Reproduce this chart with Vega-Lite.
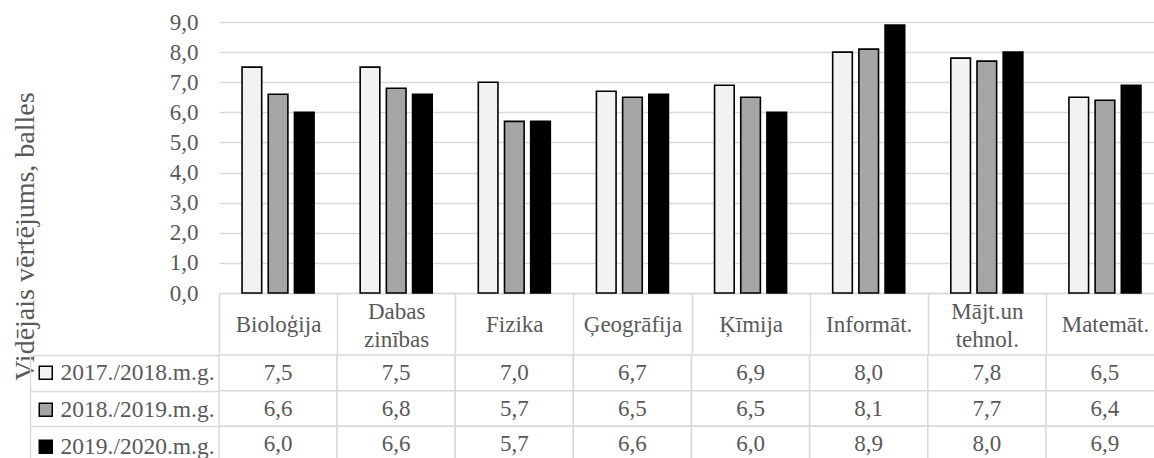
{
  "$schema": "https://vega.github.io/schema/vega-lite/v6.json",
  "autosize": {"type": "none"},
  "padding": {"left": 219, "top": 22, "right": 935, "bottom": 436},
  "background": "white",
  "datasets": {
    "scores": [
      {"subject": "Bioloģija", "series": "2017./2018.m.g.", "value": 7.5},
      {"subject": "Dabas zinības", "series": "2017./2018.m.g.", "value": 7.5},
      {"subject": "Fizika", "series": "2017./2018.m.g.", "value": 7.0},
      {"subject": "Ģeogrāfija", "series": "2017./2018.m.g.", "value": 6.7},
      {"subject": "Ķīmija", "series": "2017./2018.m.g.", "value": 6.9},
      {"subject": "Informāt.", "series": "2017./2018.m.g.", "value": 8.0},
      {"subject": "Mājt.un tehnol.", "series": "2017./2018.m.g.", "value": 7.8},
      {"subject": "Matemāt.", "series": "2017./2018.m.g.", "value": 6.5},
      {"subject": "Bioloģija", "series": "2018./2019.m.g.", "value": 6.6},
      {"subject": "Dabas zinības", "series": "2018./2019.m.g.", "value": 6.8},
      {"subject": "Fizika", "series": "2018./2019.m.g.", "value": 5.7},
      {"subject": "Ģeogrāfija", "series": "2018./2019.m.g.", "value": 6.5},
      {"subject": "Ķīmija", "series": "2018./2019.m.g.", "value": 6.5},
      {"subject": "Informāt.", "series": "2018./2019.m.g.", "value": 8.1},
      {"subject": "Mājt.un tehnol.", "series": "2018./2019.m.g.", "value": 7.7},
      {"subject": "Matemāt.", "series": "2018./2019.m.g.", "value": 6.4},
      {"subject": "Bioloģija", "series": "2019./2020.m.g.", "value": 6.0},
      {"subject": "Dabas zinības", "series": "2019./2020.m.g.", "value": 6.6},
      {"subject": "Fizika", "series": "2019./2020.m.g.", "value": 5.7},
      {"subject": "Ģeogrāfija", "series": "2019./2020.m.g.", "value": 6.6},
      {"subject": "Ķīmija", "series": "2019./2020.m.g.", "value": 6.0},
      {"subject": "Informāt.", "series": "2019./2020.m.g.", "value": 8.9},
      {"subject": "Mājt.un tehnol.", "series": "2019./2020.m.g.", "value": 8.0},
      {"subject": "Matemāt.", "series": "2019./2020.m.g.", "value": 6.9}
    ]
  },
  "vconcat": [
    {
      "width": 945,
      "height": 271,
      "data": {"name": "scores"},
      "mark": {"type": "bar", "stroke": "black", "strokeWidth": 1.6},
      "encoding": {
        "x": {
          "field": "subject",
          "type": "nominal",
          "sort": null,
          "scale": {"paddingInner": 0, "paddingOuter": 0},
          "axis": {
            "title": null,
            "orient": "bottom",
            "domain": true,
            "domainColor": "#d9d9d9",
            "domainWidth": 1.5,
            "ticks": true,
            "tickBand": "extent",
            "tickSize": 62,
            "tickColor": "#d9d9d9",
            "tickWidth": 1.5,
            "labelAngle": 0,
            "labelFont": "Liberation Serif",
            "labelFontSize": 23,
            "labelColor": "#595959",
            "labelBaseline": "middle",
            "labelPadding": {"condition": {"test": "indexof(datum.label, ' ') >= 0", "value": -43.5}, "value": -31},
            "labelLineHeight": 28,
            "labelOverlap": false,
            "labelExpr": "split(datum.label, ' ')"
          }
        },
        "xOffset": {
          "field": "series",
          "type": "nominal",
          "sort": null,
          "scale": {"paddingInner": 0.25, "paddingOuter": 0.88}
        },
        "y": {
          "field": "value",
          "type": "quantitative",
          "scale": {"domain": [0, 9], "nice": false},
          "axis": {
            "values": [0, 1, 2, 3, 4, 5, 6, 7, 8, 9],
            "format": ".1f",
            "grid": true,
            "gridColor": "#d9d9d9",
            "gridWidth": 1.5,
            "domain": false,
            "ticks": false,
            "labelFont": "Liberation Serif",
            "labelFontSize": 23,
            "labelColor": "#595959",
            "labelPadding": 21,
            "title": "Vidējais vērtējums, balles",
            "titleFont": "Liberation Serif",
            "titleFontSize": 28,
            "titleFontWeight": "normal",
            "titleColor": "#595959",
            "titleAngle": -90,
            "titleAlign": "center",
            "titleBaseline": "alphabetic",
            "titleX": -186,
            "titleY": 214
          }
        },
        "fill": {
          "field": "series",
          "type": "nominal",
          "sort": null,
          "scale": {
            "domain": ["2017./2018.m.g.", "2018./2019.m.g.", "2019./2020.m.g."],
            "range": ["#f2f2f2", "#a5a5a5", "#000000"]
          },
          "legend": {
            "title": null,
            "orient": "none",
            "legendX": -185,
            "legendY": 339,
            "padding": 0,
            "symbolType": "square",
            "symbolSize": 169,
            "symbolStrokeColor": "black",
            "symbolStrokeWidth": 1.5,
            "symbolOpacity": 1,
            "labelFont": "Liberation Serif",
            "labelFontSize": 23.5,
            "labelColor": "#595959",
            "labelOffset": 3,
            "rowPadding": 12,
            "labelLimit": 300
          }
        }
      }
    },
    {
      "width": 945,
      "height": 107,
      "data": {"name": "scores"},
      "encoding": {
        "x": {
          "field": "subject",
          "type": "nominal",
          "sort": null,
          "scale": {"paddingInner": 0, "paddingOuter": 0},
          "axis": null
        },
        "y": {
          "field": "series",
          "type": "nominal",
          "sort": null,
          "scale": {"paddingInner": 0, "paddingOuter": 0},
          "axis": {
            "title": null,
            "orient": "left",
            "offset": 189,
            "labels": false,
            "domain": true,
            "domainColor": "#d9d9d9",
            "domainWidth": 1.5,
            "ticks": true,
            "tickBand": "extent",
            "tickSize": -189,
            "tickColor": "#d9d9d9",
            "tickWidth": 1.5,
            "grid": false
          }
        }
      },
      "layer": [
        {
          "mark": {"type": "rect", "fill": "white", "stroke": "#d9d9d9", "strokeWidth": 1.5}
        },
        {
          "mark": {
            "type": "text",
            "font": "Liberation Serif",
            "fontSize": 23,
            "color": "#595959",
            "align": "center",
            "baseline": "middle"
          },
          "encoding": {
            "text": {"field": "value", "type": "quantitative", "format": ".1f"}
          }
        }
      ]
    }
  ],
  "spacing": 62,
  "bounds": "flush",
  "config": {
    "locale": {
      "number": {"decimal": ",", "thousands": " ", "grouping": [3], "currency": ["", " €"]}
    },
    "view": {"stroke": null},
    "font": "Liberation Serif"
  }
}
